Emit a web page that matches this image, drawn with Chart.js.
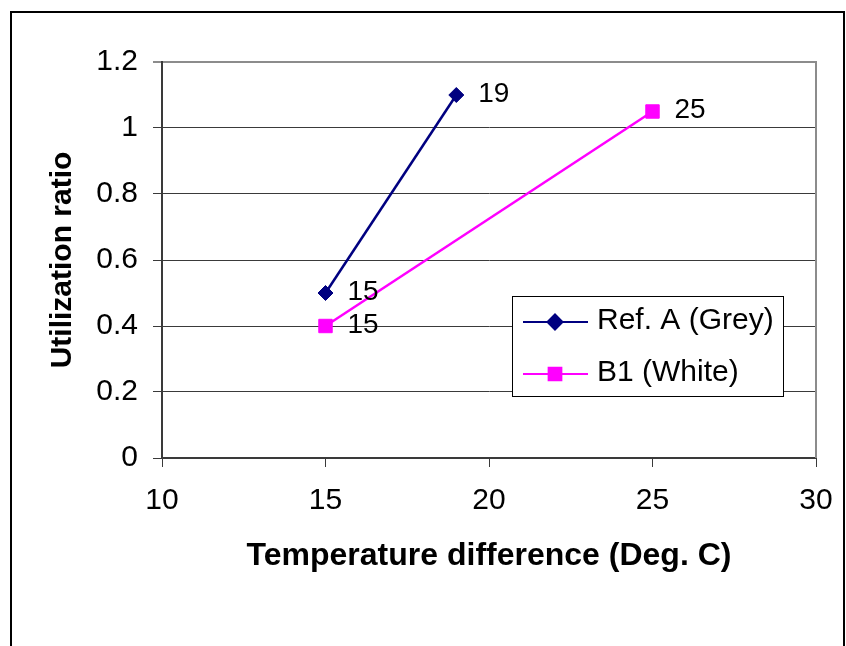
<!DOCTYPE html>
<html>
<head>
<meta charset="utf-8">
<script src="https://cdn.jsdelivr.net/npm/chart.js@4/dist/chart.umd.min.js"></script>
<style>
  html, body { margin: 0; padding: 0; background: #fff; }
  #wrap { position: relative; width: 846px; height: 646px; }
</style>
</head>
<body>
<div id="wrap"><canvas id="chart" width="846" height="646"></canvas></div>
<script>
// --------------------------------------
// 1. Data
// --------------------------------------
const seriesNames = ["Ref. A (Grey)", "B1 (White)"];
const refA_x = [15, 19];
const refA_y = [0.5, 1.1];
const b1_x = [15, 25];
const b1_y = [0.4, 1.05];

const xTicks = [10, 15, 20, 25, 30];
const yTicks = [0, 0.2, 0.4, 0.6, 0.8, 1, 1.2];
const xTitle = "Temperature difference (Deg. C)";
const yTitle = "Utilization ratio";

const FONT = "'Liberation Sans', Arial, sans-serif";
const GRID_DARK = '#3a3a3a';
const GRID_LIGHT = '#8c8c8c';

function toPoints(xs, ys) {
    return xs.map((x, i) => ({ x: x, y: ys[i] }));
}

// --------------------------------------
// 2. Plugins
// --------------------------------------
const framePlugin = {
    id: 'frame',
    beforeDraw(chart) {
        const ctx = chart.ctx;
        ctx.save();
        ctx.fillStyle = '#fff';
        ctx.fillRect(0, 0, chart.width, chart.height);
        ctx.strokeStyle = '#000';
        ctx.lineWidth = 2;
        ctx.strokeRect(11, 12, 833, 700);
        ctx.restore();
    },
    afterDraw(chart) {
        // plot area right border
        const { right, top, bottom } = chart.chartArea;
        const ctx = chart.ctx;
        ctx.save();
        ctx.strokeStyle = GRID_LIGHT;
        ctx.lineWidth = 2;
        ctx.beginPath();
        ctx.moveTo(right, top - 1);
        ctx.lineTo(right, bottom);
        ctx.stroke();
        ctx.restore();
    }
};

const pointLabelPlugin = {
    id: 'pointLabels',
    afterDatasetsDraw(chart) {
        const ctx = chart.ctx;
        ctx.save();
        ctx.font = "28px " + FONT;
        ctx.fillStyle = '#000';
        ctx.textAlign = 'left';
        ctx.textBaseline = 'middle';
        chart.data.datasets.forEach((ds, di) => {
            const meta = chart.getDatasetMeta(di);
            meta.data.forEach((pt, i) => {
                ctx.fillText(String(ds.data[i].x), pt.x + 22, pt.y - 1);
            });
        });
        ctx.restore();
    }
};

const legendBoxPlugin = {
    id: 'legendBox',
    afterDraw(chart) {
        const ctx = chart.ctx;
        const box = { x: 512, y: 296, w: 271, h: 100 };
        const rowY = [322, 374];
        ctx.save();
        ctx.fillStyle = '#fff';
        ctx.fillRect(box.x, box.y, box.w, box.h);
        ctx.strokeStyle = '#000';
        ctx.lineWidth = 1;
        ctx.strokeRect(box.x + 0.5, box.y + 0.5, box.w, box.h);
        chart.data.datasets.forEach((ds, i) => {
            const y = rowY[i];
            ctx.strokeStyle = ds.borderColor;
            ctx.lineWidth = 2;
            ctx.beginPath();
            ctx.moveTo(523, y);
            ctx.lineTo(588, y);
            ctx.stroke();
            Chart.helpers.drawPoint(ctx, {
                pointStyle: ds.pointStyle,
                radius: ds.pointStyle === 'rect' ? 9 : 7.5,
                borderWidth: 1,
                rotation: 0
            }, 555, y);
            ctx.fillStyle = ds.borderColor;
            ctx.fill();
            ctx.fillStyle = '#000';
            ctx.font = "30px " + FONT;
            ctx.textAlign = 'left';
            ctx.textBaseline = 'middle';
            ctx.fillText(ds.label, 597, y - 1);
        });
        ctx.restore();
    }
};

// --------------------------------------
// 3. Chart
// --------------------------------------
const ctx = document.getElementById('chart').getContext('2d');
const chart = new Chart(ctx, {
    type: 'scatter',
    data: {
        datasets: [
            {
                label: seriesNames[0],
                data: toPoints(refA_x, refA_y),
                showLine: true,
                borderColor: '#000080',
                backgroundColor: '#000080',
                borderWidth: 2.5,
                pointStyle: 'rectRot',
                pointRadius: 7.5,
                pointBorderWidth: 1
            },
            {
                label: seriesNames[1],
                data: toPoints(b1_x, b1_y),
                showLine: true,
                borderColor: '#ff00ff',
                backgroundColor: '#ff00ff',
                borderWidth: 2.5,
                pointStyle: 'rect',
                pointRadius: 9.5,
                pointBorderWidth: 1
            }
        ]
    },
    options: {
        responsive: false,
        animation: false,
        events: [],
        layout: { padding: { left: 0, top: 62, right: 30, bottom: 0 } },
        plugins: {
            legend: { display: false },
            tooltip: { enabled: false }
        },
        scales: {
            x: {
                type: 'linear',
                min: xTicks[0],
                max: xTicks[xTicks.length - 1],
                afterBuildTicks: (scale) => { scale.ticks = xTicks.map(v => ({ value: v })); },
                afterFit: (scale) => {
                    scale.height = 188;
                    scale.paddingLeft = 0;
                    scale.paddingRight = 0;
                },
                border: { display: true, color: GRID_DARK, width: 2 },
                grid: { drawOnChartArea: false, drawTicks: true, tickLength: 9, color: GRID_DARK, lineWidth: 1 },
                ticks: { color: '#000', font: { family: FONT, size: 30 }, padding: 16, maxRotation: 0 },
                title: {
                    display: true,
                    text: xTitle,
                    color: '#000',
                    font: { family: FONT, size: 32, weight: 'bold' },
                    padding: { top: 0, bottom: 71 }
                }
            },
            y: {
                type: 'linear',
                min: yTicks[0],
                max: yTicks[yTicks.length - 1],
                afterBuildTicks: (scale) => { scale.ticks = yTicks.map(v => ({ value: v })); },
                afterFit: (scale) => {
                    scale.width = 162;
                    scale.paddingTop = 0;
                    scale.paddingBottom = 0;
                },
                border: { display: true, color: GRID_DARK, width: 2 },
                grid: {
                    drawTicks: true,
                    tickLength: 9,
                    color: (c) => (c.tick && c.tick.value === yTicks[yTicks.length - 1]) ? GRID_LIGHT : GRID_DARK,
                    lineWidth: (c) => (c.tick && c.tick.value === yTicks[yTicks.length - 1]) ? 2 : 1
                },
                ticks: {
                    color: '#000',
                    font: { family: FONT, size: 30 },
                    padding: 15,
                    callback: (v) => String(Math.round(v * 10) / 10)
                },
                title: {
                    display: true,
                    text: yTitle,
                    color: '#000',
                    font: { family: FONT, size: 30, weight: 'bold' },
                    padding: { top: 45, bottom: 0 }
                }
            }
        }
    },
    plugins: [framePlugin, pointLabelPlugin, legendBoxPlugin]
});
</script>
</body>
</html>
